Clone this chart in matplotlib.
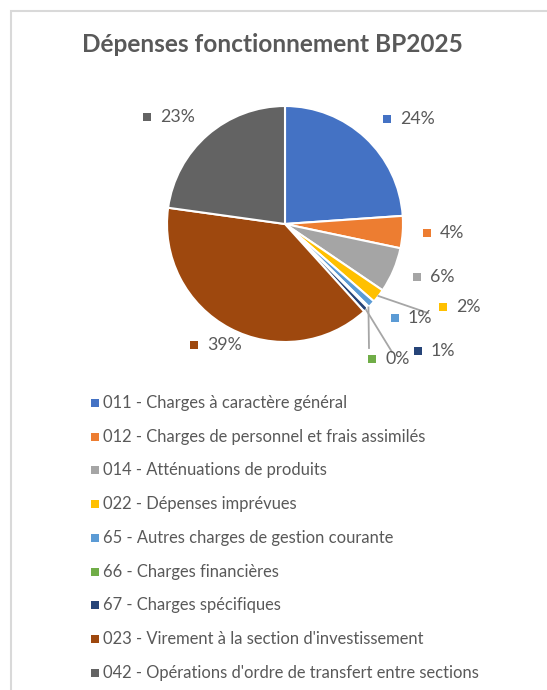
import matplotlib
matplotlib.use('Agg')
import matplotlib.pyplot as plt
import numpy as np
from matplotlib.patches import Rectangle

plt.rcParams['font.family'] = ['Lato', 'DejaVu Sans']

# données (part en %)
categories = ["011 - Charges à caractère général",
              "012 - Charges de personnel et frais assimilés",
              "014 - Atténuations de produits",
              "022 - Dépenses imprévues",
              "65 - Autres charges de gestion courante",
              "66 - Charges financières",
              "67 - Charges spécifiques",
              "023 - Virement à la section d'investissement",
              "042 - Opérations d'ordre de transfert entre sections"]
values = [23.9, 4.4, 6.2, 1.9, 1.0, 0.2, 0.7, 38.9, 22.8]
colors = ['#4472C4', '#ED7D31', '#A5A5A5', '#FFC000', '#5B9BD5',
          '#70AD47', '#264478', '#9E480E', '#636363']

W, H = 547, 690
txt = '#595959'

# position des étiquettes (pixels, y vers le bas)
lab_pos = [(387, 119), (427, 233), (417, 277), (443, 307), (395, 318),
           (372, 359), (418, 351), (194, 345), (147, 117)]
# lignes de rappel : index -> point final
leaders = {3: (428, 313), 5: (369, 348), 6: (392, 352)}

cx, cy, R = 285, 224, 118

fig = plt.figure(figsize=(W / 100, H / 100), dpi=100)
ax = fig.add_axes([0, 0, 1, 1])

wedges, _ = ax.pie(values, colors=colors, startangle=90, counterclock=False,
                   center=(cx, H - cy), radius=R,
                   wedgeprops=dict(edgecolor='white', linewidth=1.5))
ax.set_xlim(0, W)
ax.set_ylim(0, H)
ax.set_aspect('equal')
ax.axis('off')

ax.add_patch(Rectangle((10.5, -20), W + 20, H - 10.5 + 20, fill=False,
                       edgecolor='#D9D9D9', linewidth=1.5))

ax.text(W / 2 - 1, H - 45, 'Dépenses fonctionnement BP2025', ha='center',
        va='center', fontsize=17.6, fontweight='bold', color=txt)

# étiquettes de données
for i, v in enumerate(values):
    mx, my = lab_pos[i]
    ax.scatter(mx, H - my, marker='s', s=28, color=colors[i], linewidths=0)
    ax.text(mx + 13, H - my, '%d%%' % round(v), ha='left', va='center',
            fontsize=12.8, color=txt)

cum = np.cumsum([0] + values)
for i, (ex, ey) in leaders.items():
    mid = (cum[i] + cum[i + 1]) / 2 / 100 * 2 * np.pi
    sx = cx + R * np.sin(mid)
    sy = cy - R * np.cos(mid)
    ax.plot([sx, ex], [H - sy, H - ey], color='#A6A6A6', lw=1.3)

# légende
for i, lab in enumerate(categories):
    y = H - (403 + i * 33.7)
    ax.scatter(95, y, marker='s', s=26, color=colors[i], linewidths=0)
    ax.text(103, y, lab, ha='left', va='center', fontsize=11.9, color=txt)

fig.savefig('out.png', dpi=100)
